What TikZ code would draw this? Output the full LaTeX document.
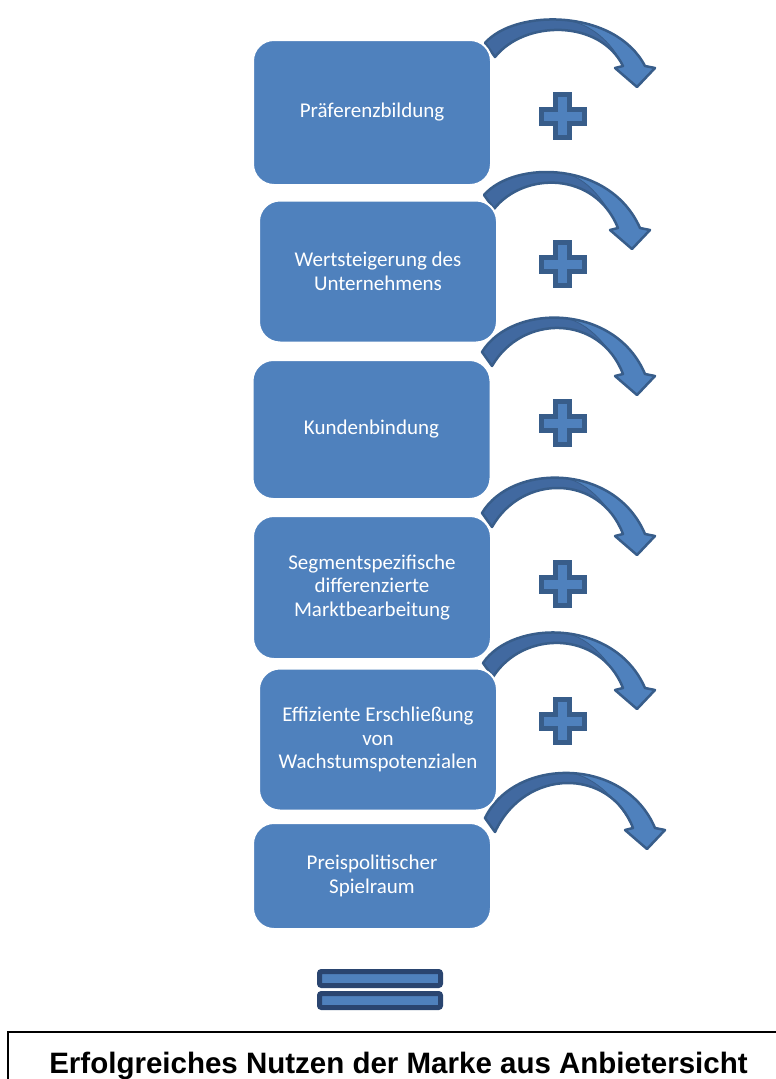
\documentclass[tikz,border=0pt]{standalone}
\usepackage{fontspec}
\setmainfont{Carlito}
\newfontfamily\arialfont{Liberation Sans}
\usetikzlibrary{calc}
\definecolor{kastenblau}{HTML}{4F81BD}
\definecolor{randblau}{HTML}{385D8A}
\definecolor{hintenblau}{HTML}{4169A0}
\definecolor{gleichrand}{HTML}{2A4570}
\tikzset{
kasten/.style={rectangle,rounded corners=21pt,draw=white,line width=2pt,fill=kastenblau,text=white,align=center,inner sep=0pt,font=\fontsize{21}{23.5}\selectfont,anchor=center},
kasten-schmal/.style={kasten,minimum width=238pt},
pfeil-hinten/.style={fill=hintenblau},
pfeil-vorne/.style={fill=kastenblau,draw=randblau,line width=0.8pt},
pfeil-rand/.style={draw=randblau,line width=2.5pt,line join=round},
plus/.style={fill=kastenblau,draw=randblau,line width=5pt,line join=miter},
gleich/.style={fill=kastenblau,draw=gleichrand,line width=5pt,rounded corners=2pt},
ergebnis/.style={font=\arialfont\bfseries\fontsize{29.5}{33}\selectfont,anchor=base,inner sep=0pt}
}

\begin{document}
\begin{tikzpicture}[x=1pt,y=-1pt]
    \useasboundingbox (0,0) rectangle (776,1079);
    % base outer (#1,#2), top y (#3), tip (#4,#5)
    \newcommand{\bogenpfeil}[5]{%
      \pgfmathsetmacro{\aussenY}{(8*#3-#2-#5+21)/6}
      \pgfmathsetmacro{\innenY}{(8*(#3+10)-#5+21-#2-14)/6}
      \pgfmathsetmacro{\mitteX}{(#1+#4)/2+4}
      \pgfmathsetmacro{\qaX}{(#1+3*#4-6)/4}
      \pgfmathsetmacro{\qaY}{(3*\aussenY+#5-21)/4}
      \pgfmathsetmacro{\qbY}{(\aussenY+#5-21)/2}
      \path[pfeil-hinten] (#1,#2) .. controls (#1+30,\aussenY) and (#4-22,\aussenY) .. (#4+8,#5-21)
        -- (#4+18,#5-19) -- (#4,#5) -- (#4-22,#5-19) -- (#4-14,#5-21)
        .. controls (#4-37,\innenY) and (#1+40,\innenY) .. (#1+10,#2+14) -- cycle;
      \path[pfeil-vorne] (\mitteX,#3) .. controls (\qaX,\qaY) and (#4-7,\qbY) .. (#4+8,#5-21)
        -- (#4+18,#5-19) -- (#4,#5) -- (#4-22,#5-19) -- (#4-14,#5-21)
        .. controls (#4-25,#5-45) and (\mitteX+25,#3+3) .. (\mitteX,#3) -- cycle;
      \draw[pfeil-rand] (#1,#2) .. controls (#1+30,\aussenY) and (#4-22,\aussenY) .. (#4+8,#5-21)
        -- (#4+18,#5-19) -- (#4,#5) -- (#4-22,#5-19) -- (#4-14,#5-21)
        .. controls (#4-37,\innenY) and (#1+40,\innenY) .. (#1+10,#2+14) -- cycle;
    }
    \newcommand{\pluszeichen}[2]{%
      \draw[plus] (#1-7,#2-21.5) -- (#1+7,#2-21.5) -- (#1+7,#2-7) -- (#1+21.5,#2-7)
        -- (#1+21.5,#2+7) -- (#1+7,#2+7) -- (#1+7,#2+21.5) -- (#1-7,#2+21.5)
        -- (#1-7,#2+7) -- (#1-21.5,#2+7) -- (#1-21.5,#2-7) -- (#1-7,#2-7) -- cycle;
    }
    %
    \foreach \bx/\by/\hy/\tx/\ty in {485/43/20/637/87,484/195/173/632/249,482/352/318/637/395,482/513/478/637/555,483/663/633/637/709,485/818/773/647/849}
      \bogenpfeil{\bx}{\by}{\hy}{\tx}{\ty};
    %
    \node[kasten-schmal, minimum height=145pt](praef) at (372,112.5) {Präferenzbildung};
    \node[kasten-schmal, minimum height=142pt](wert) at (378,271.5) {Wertsteigerung des\\Unternehmens};
    \node[kasten-schmal, minimum height=139pt](kunden) at (371.5,429.5) {Kundenbindung};
    \node[kasten-schmal, minimum height=143pt](segment) at (372,587.5) {Segmentspezifische\\differenzierte\\Marktbearbeitung};
    \node[kasten-schmal, minimum height=142pt](wachstum) at (378,739.5) {Effiziente Erschließung\\von\\Wachstumspotenzialen};
    \node[kasten-schmal, minimum height=106pt](preis) at (372,876) {Preispolitischer\\Spielraum};
    %
    \foreach \py in {116,264,423,584,721}
      \pluszeichen{562.5}{\py};
    %
    \draw[gleich] (319.5,971.5) rectangle (440.5,985.5);
    \draw[gleich] (319.5,993.5) rectangle (440.5,1007.5);
    %
    \draw[black, line width=1.5pt] (8,1032) rectangle (790,1095);
    \node[ergebnis](titel) at (398.5,1073) {Erfolgreiches Nutzen der Marke aus Anbietersicht};
\end{tikzpicture}
\end{document}
